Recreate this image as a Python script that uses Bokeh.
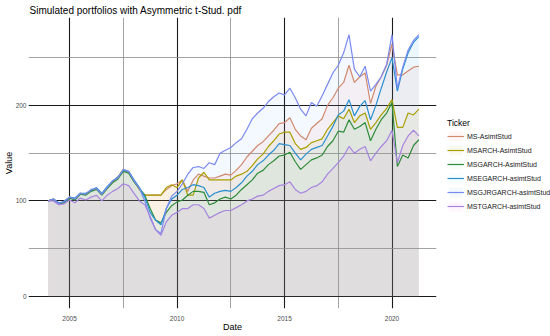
import pandas as pd
from bokeh.plotting import figure
from bokeh.models import FixedTicker, Legend, LegendItem, Range1d
from bokeh.embed import file_html
from bokeh.resources import INLINE

# quarterly observation dates, 2004Q1 .. 2021Q2
dates = pd.date_range("2004-01-01", periods=70, freq="QS")
years = [d.year + (d.month - 1) / 12 for d in dates]

tickers = ["MS-AsimtStud", "MSARCH-AsimtStud", "MSGARCH-AsimtStud",
           "MSEGARCH-asimtStud", "MSGJRGARCH-asimtStud", "MSTGARCH-asimtStud"]

ms = [100, 102, 97, 99, 104, 102, 108, 107, 111, 113, 107, 114, 120, 124, 132, 130, 121, 112,
      106, 106, 106, 106, 112, 116, 118, 122, 110, 122, 128, 126, 124, 124, 126, 128, 127, 132,
      138, 146, 152, 158, 162, 168, 174, 181, 182, 187, 175, 168, 164, 176, 181, 186, 200, 208,
      218, 224, 242, 224, 230, 234, 202, 220, 230, 242, 264, 232, 232, 236, 240, 241]
msarch = [100, 102, 97, 99, 104, 102, 108, 107, 111, 113, 107, 114, 120, 125, 133, 130, 121, 112,
          106, 106, 106, 106, 114, 117, 114, 122, 106, 106, 124, 130, 122, 122, 122, 122, 122, 126,
          128, 131, 137, 144, 149, 157, 163, 170, 172, 172, 160, 154, 156, 161, 163, 165, 175, 182,
          189, 186, 196, 182, 189, 192, 175, 182, 190, 197, 206, 177, 177, 192, 190, 196]
msgarch = [100, 101, 97, 98, 103, 101, 107, 106, 110, 112, 106, 113, 119, 123, 131, 129, 120, 113,
           106, 92, 80, 77, 88, 95, 99, 101, 106, 110, 110, 109, 96, 98, 102, 104, 102, 106,
           112, 117, 122, 129, 132, 138, 142, 147, 148, 151, 141, 133, 138, 143, 145, 148, 157, 163,
           173, 172, 185, 175, 178, 182, 163, 175, 185, 192, 203, 136, 148, 145, 158, 164]
msegarch = [100, 102, 98, 99, 104, 103, 108, 108, 111, 114, 108, 115, 121, 125, 132, 131, 122, 114,
            104, 88, 80, 75, 92, 102, 106, 112, 114, 117, 116, 114, 104, 108, 110, 111, 110, 114,
            119, 126, 131, 138, 142, 148, 153, 160, 159, 158, 150, 143, 149, 154, 156, 158, 168, 178,
            190, 194, 206, 189, 199, 205, 185, 200, 218, 235, 250, 215, 238, 255, 266, 272]
msgjrgarch = [100, 102, 97, 100, 104, 102, 108, 107, 112, 113, 107, 114, 121, 124, 133, 131, 121, 113,
              100, 82, 70, 66, 92, 105, 110, 118, 128, 135, 136, 134, 140, 138, 150, 153, 156, 161,
              165, 175, 186, 192, 197, 204, 209, 213, 211, 218, 208, 196, 189, 203, 199, 210, 222, 234,
              242, 255, 274, 238, 230, 241, 215, 222, 230, 243, 274, 218, 240, 258, 268, 274]
mstgarch = [100, 100, 96, 97, 101, 98, 103, 101, 104, 106, 100, 106, 110, 113, 118, 116, 108, 100,
            96, 84, 70, 64, 78, 85, 88, 92, 92, 96, 96, 92, 82, 85, 88, 90, 90, 93,
            96, 100, 102, 105, 106, 110, 113, 116, 117, 120, 112, 108, 110, 114, 116, 120, 128, 134,
            140, 147, 157, 150, 154, 157, 142, 150, 157, 163, 174, 140, 158, 168, 174, 168]

series = [ms, msarch, msgarch, msegarch, msgjrgarch, mstgarch]

x_ticks = [2005, 2010, 2015, 2020]
x_minor = [2002.5, 2007.5, 2012.5, 2017.5, 2022.5]
y_ticks = [0, 100, 200]
y_minor = [50, 150, 250]

line_colors = ["#D08A70", "#A8A000", "#2E8B3A", "#2A8FD0", "#7A8AF0", "#A884E0"]
fill_colors = ["#F8766D", "#B79F00", "#00BA38", "#00BFC4", "#619CFF", "#F564E3"]
fill_alphas = [0.065, 0.065, 0.035, 0.035, 0.065, 0.065]

FONT = "Liberation Sans"

p = figure(frame_width=408, frame_height=291, output_backend="svg", toolbar_location=None,
           x_range=Range1d(2003.09, 2022.07), y_range=Range1d(-12.6, 292),
           title="Simulated portfolios with Asymmetric t-Stud. pdf",
           min_border_left=0, min_border_right=0, min_border_top=0, min_border_bottom=0)
p.outline_line_color = None
p.background_fill_color = "white"
p.border_fill_color = "white"

p.title.text_font = FONT
p.title.text_font_size = "10px"
p.title.text_font_style = "normal"
p.title.text_color = "#000000"
p.title.align = "left"
p.title.offset = 1
p.title.standoff = 4

areas = []
lines = []
for s, fc, fa in zip(series, fill_colors, fill_alphas):
    areas.append(p.varea(x=years, y1=[0] * len(s), y2=s, fill_color=fc, fill_alpha=fa))
for s, lc in zip(series, line_colors):
    lines.append(p.line(x=years, y=s, line_color=lc, line_width=1.2))

p.xaxis.ticker = FixedTicker(ticks=x_ticks, minor_ticks=x_minor)
p.yaxis.ticker = FixedTicker(ticks=y_ticks, minor_ticks=y_minor)

for ax in (p.xaxis, p.yaxis):
    ax.axis_line_color = None
    ax.major_tick_line_color = None
    ax.minor_tick_line_color = None
    ax.major_tick_in = 0
    ax.major_tick_out = 0
    ax.minor_tick_in = 0
    ax.minor_tick_out = 0
    ax.major_label_text_font = FONT
    ax.major_label_text_font_size = "6.5px"
    ax.major_label_text_color = "#4D4D4D"
    ax.axis_label_text_font = FONT
    ax.axis_label_text_font_size = "9px"
    ax.axis_label_text_font_style = "normal"
    ax.axis_label_text_color = "#000000"
p.xaxis.axis_label = "Date"
p.yaxis.axis_label = "Value"
p.xaxis.major_label_standoff = 7
p.xaxis.axis_label_standoff = -2
p.yaxis.major_label_standoff = 2
p.yaxis.axis_label_standoff = -1

for g in (p.xgrid, p.ygrid):
    g.grid_line_color = "#1A1A1A"
    g.grid_line_width = 1.1
    g.minor_grid_line_color = "#8C8C8C"
    g.minor_grid_line_width = 0.8

items = [LegendItem(label=t, renderers=[a, l]) for t, a, l in zip(tickers, areas, lines)]
legend = Legend(items=items, location=(11, 96), title="Ticker")
legend.title_text_font = FONT
legend.title_text_font_size = "8.5px"
legend.title_text_font_style = "normal"
legend.title_text_color = "#000000"
legend.title_standoff = 2
legend.label_text_font = FONT
legend.label_text_font_size = "7px"
legend.label_text_color = "#1A1A1A"
legend.glyph_width = 17
legend.glyph_height = 12
legend.label_height = 12
legend.spacing = 2
legend.label_standoff = 3
legend.padding = 0
legend.margin = 0
legend.border_line_color = None
legend.background_fill_alpha = 0
p.add_layout(legend, "right")

open("out.html", "w").write(file_html(p, INLINE))
